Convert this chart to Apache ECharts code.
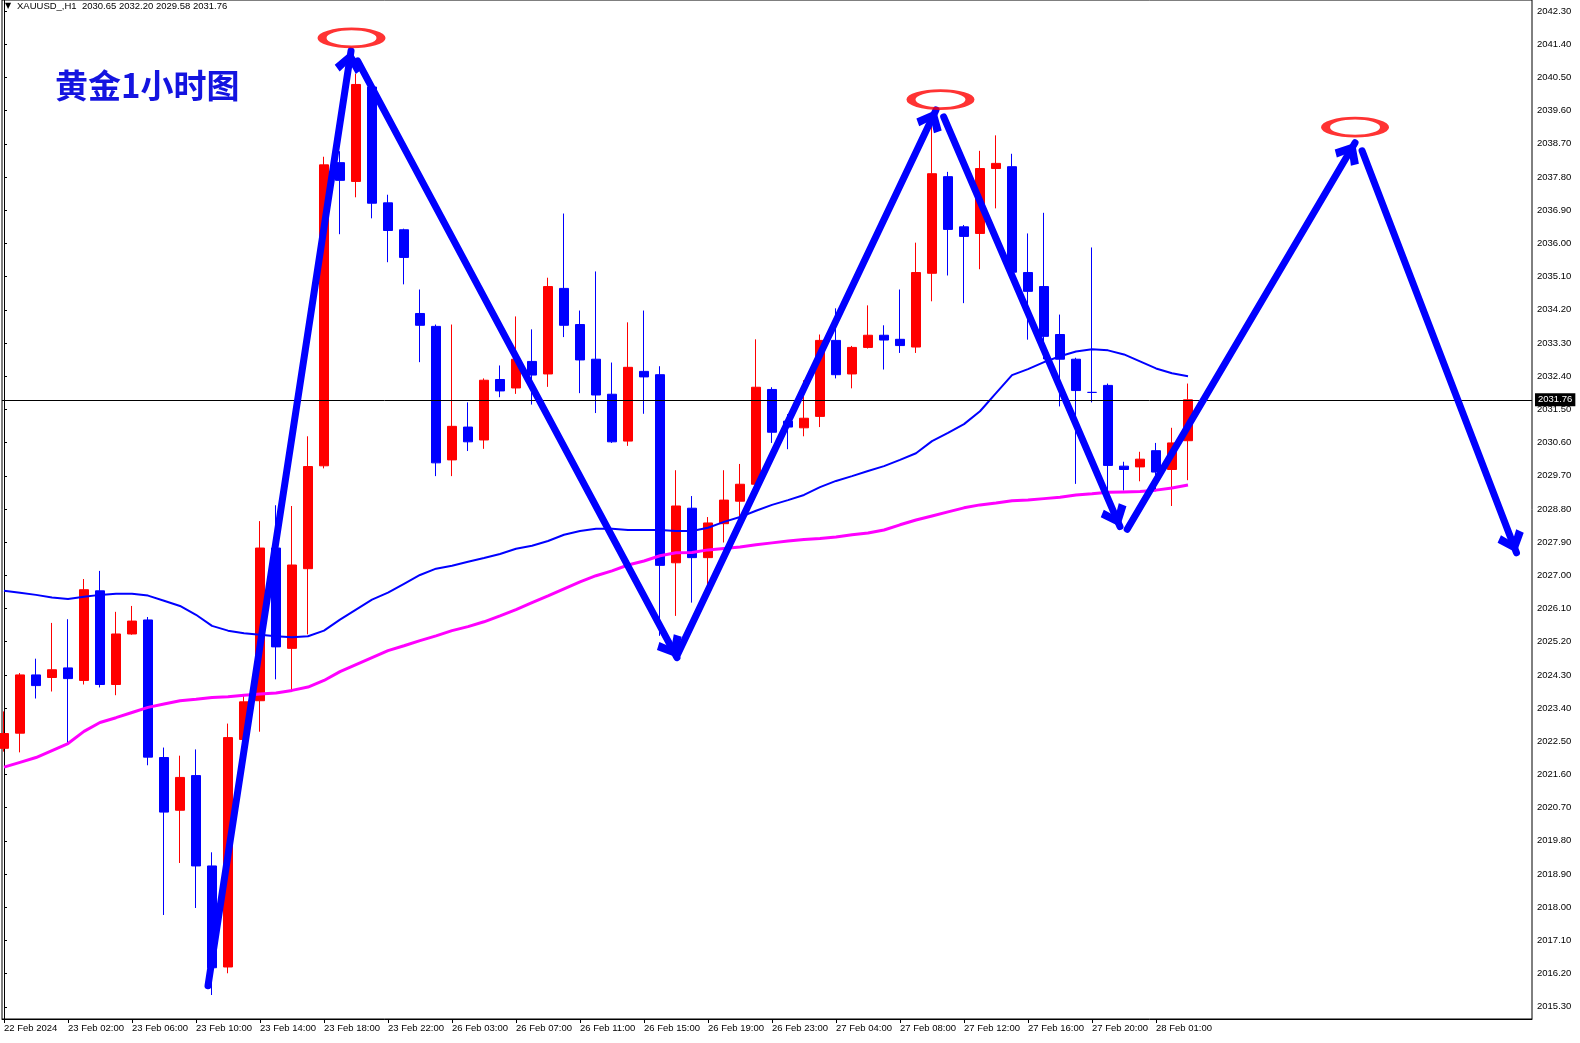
<!DOCTYPE html>
<html>
<head>
<meta charset="utf-8">
<script src="https://cdn.jsdelivr.net/npm/echarts@6/dist/echarts.min.js"></script>
<style>
html,body{margin:0;padding:0;background:#fff;}
#chart{width:1580px;height:1043px;}
</style>
</head>
<body>
<div id="chart"></div>
<script>
// ---- data (bar index 0..74, H1 bars) ----
const openV  = [2022.31,2022.72,2024.30,2024.23,2024.49,2024.15,2026.58,2024.04,2025.41,2025.79,
                2022.06,2020.63,2021.57,2019.12,2016.38,2022.55,2023.60,2027.74,2025.02,2027.18,
                2029.97,2038.19,2037.68,2040.24,2037.10,2036.37,2034.10,2033.75,2030.13,2031.02,
                2030.67,2032.31,2032.08,2032.80,2032.46,2034.78,2033.80,2032.86,2031.91,2030.64,
                2032.53,2032.44,2027.34,2028.82,2027.48,2028.40,2029.01,2029.47,2032.04,2031.18,
                2031.00,2031.31,2033.37,2032.46,2033.18,2033.51,2033.40,2033.19,2035.19,2037.81,
                2036.45,2036.27,2038.03,2038.08,2035.21,2034.83,2033.53,2032.86,2031.96,2032.15,
                2029.96,2029.94,2030.38,2029.87,2030.65];
const closeV = [2022.71,2024.30,2024.01,2024.44,2024.20,2026.61,2024.04,2025.41,2025.76,2022.07,
                2020.58,2021.52,2019.12,2016.36,2022.60,2023.57,2027.74,2025.06,2027.28,2029.95,
                2038.13,2037.71,2040.31,2037.09,2036.35,2035.62,2033.78,2030.05,2031.04,2030.62,
                2032.29,2032.00,2032.86,2032.43,2034.83,2033.78,2032.84,2031.89,2030.62,2032.64,
                2032.38,2027.27,2028.88,2027.48,2028.42,2029.04,2029.47,2032.10,2030.88,2031.02,
                2031.26,2033.37,2032.44,2033.18,2033.51,2033.38,2033.23,2035.21,2037.89,2036.38,
                2036.19,2038.03,2038.17,2035.22,2034.70,2033.48,2032.86,2032.01,2031.96,2029.98,
                2029.87,2030.15,2029.80,2030.59,2031.76];
const lowV   = [2022.22,2022.20,2023.66,2023.85,2022.45,2024.04,2023.96,2023.75,2025.39,2021.85,
                2017.79,2019.20,2017.98,2015.62,2016.21,2022.40,2022.76,2024.18,2023.85,2025.40,
                2029.90,2036.25,2037.25,2036.68,2035.49,2034.89,2032.78,2029.69,2029.69,2030.37,
                2030.43,2031.83,2031.92,2031.63,2032.11,2033.46,2031.94,2031.40,2030.59,2030.51,
                2031.38,2025.36,2025.90,2026.26,2026.72,2027.89,2028.52,2029.40,2030.59,2030.42,
                2030.77,2031.02,2032.34,2032.07,2033.15,2032.58,2033.03,2033.03,2034.43,2035.13,
                2034.38,2035.30,2036.95,2035.10,2033.39,2032.86,2031.58,2029.48,2031.69,2029.20,
                2029.30,2029.55,2029.30,2028.88,2029.58];
const highV  = [2023.31,2024.35,2024.74,2025.71,2025.81,2026.90,2027.12,2026.01,2026.17,2025.87,
                2022.33,2022.11,2022.28,2019.49,2022.98,2023.75,2028.47,2028.90,2028.88,2030.77,
                2038.35,2038.50,2040.60,2040.35,2037.32,2036.40,2034.75,2033.80,2033.80,2031.69,
                2032.34,2032.69,2034.02,2033.67,2035.07,2036.81,2034.18,2035.24,2032.77,2033.86,
                2034.18,2032.67,2029.85,2029.15,2028.58,2029.85,2030.02,2033.40,2032.10,2031.37,
                2032.29,2033.53,2034.24,2033.22,2034.32,2033.78,2034.75,2036.02,2039.40,2037.94,
                2036.50,2038.51,2038.93,2038.43,2036.27,2036.83,2034.07,2032.90,2035.89,2032.20,
                2030.08,2030.35,2030.59,2031.00,2032.20];
// blue moving average
const maBlue = [2026.58,2026.53,2026.47,2026.40,2026.36,2026.42,2026.47,2026.50,2026.50,2026.45,
                2026.31,2026.17,2025.93,2025.63,2025.50,2025.43,2025.39,2025.35,2025.32,2025.35,
                2025.50,2025.80,2026.07,2026.34,2026.53,2026.77,2027.01,2027.18,2027.26,2027.37,
                2027.47,2027.58,2027.72,2027.80,2027.93,2028.10,2028.20,2028.26,2028.26,2028.23,
                2028.23,2028.23,2028.20,2028.20,2028.29,2028.45,2028.58,2028.75,2028.91,2029.04,
                2029.18,2029.39,2029.56,2029.69,2029.83,2029.96,2030.13,2030.31,2030.64,2030.86,
                2031.10,2031.45,2031.94,2032.43,2032.59,2032.78,2032.94,2033.07,2033.13,2033.10,
                2032.99,2032.80,2032.61,2032.48,2032.40];
// magenta moving average
const maMagenta = [2021.80,2021.93,2022.06,2022.25,2022.44,2022.77,2023.01,2023.14,2023.28,2023.42,
                2023.51,2023.60,2023.64,2023.69,2023.71,2023.75,2023.78,2023.81,2023.88,2023.97,
                2024.15,2024.39,2024.58,2024.77,2024.96,2025.09,2025.23,2025.36,2025.50,2025.61,
                2025.74,2025.90,2026.07,2026.26,2026.44,2026.63,2026.82,2026.99,2027.12,2027.28,
                2027.39,2027.53,2027.61,2027.62,2027.69,2027.73,2027.77,2027.83,2027.88,2027.93,
                2027.97,2028.00,2028.04,2028.10,2028.15,2028.23,2028.37,2028.50,2028.61,2028.72,
                2028.83,2028.91,2028.96,2029.02,2029.04,2029.08,2029.12,2029.18,2029.21,2029.25,
                2029.26,2029.27,2029.31,2029.37,2029.45];
// time axis labels (bar index -> text)
const timeTickIdx  = [0,4,8,12,16,20,24,28,32,36,40,44,48,52,56,60,64,68,72];
const timeTickText = ['22 Feb 2024','23 Feb 02:00','23 Feb 06:00','23 Feb 10:00','23 Feb 14:00',
                      '23 Feb 18:00','23 Feb 22:00','26 Feb 03:00','26 Feb 07:00','26 Feb 11:00',
                      '26 Feb 15:00','26 Feb 19:00','26 Feb 23:00','27 Feb 04:00','27 Feb 08:00',
                      '27 Feb 12:00','27 Feb 16:00','27 Feb 20:00','28 Feb 01:00'];
// price axis ticks
const priceTicks = [2015.30,2016.20,2017.10,2018.00,2018.90,2019.80,2020.70,2021.60,2022.50,2023.40,
                    2024.30,2025.20,2026.10,2027.00,2027.90,2028.80,2029.70,2030.60,2031.50,2032.40,
                    2033.30,2034.20,2035.10,2036.00,2036.90,2037.80,2038.70,2039.60,2040.50,2041.40,
                    2042.30];
const lastPrice = 2031.76;
const headerText = 'XAUUSD_,H1  2030.65 2032.20 2029.58 2031.76';
const noteText = '黄金1小时图';
// hand-drawn annotations, in (bar index, price)
const arrowStart = [[12.75,2015.87],[22.10,2040.95],[42.06,2024.82],[58.73,2039.43],[70.20,2028.25],[84.88,2038.51]];
const arrowEnd   = [[21.69,2041.22],[42.06,2024.77],[58.25,2039.62],[69.75,2028.32],[84.44,2038.73],[94.53,2027.61]];
const ringPts    = [[21.72,2041.57],[58.53,2039.90],[84.44,2039.15]];

const candleData = openV.map((o, i) => [i, o, closeV[i], lowV[i], highV[i]]);
const blueData = maBlue.map((v, i) => [i, v]);
const magData = maMagenta.map((v, i) => [i, v]);
const arrowLines = arrowStart.map((s, k) => [{coord: s}, {coord: arrowEnd[k]}]);

const FONT = 'Liberation Sans, Arial, DejaVu Sans, sans-serif';
const chevron = 'path://M12 0L24 14L19 19L12 10L5 19L0 14Z M12 -19';

const chart = echarts.init(document.getElementById('chart'), null, {renderer: 'canvas'});
chart.setOption({
  animation: false,
  backgroundColor: '#ffffff',
  grid: {left: 2, right: 48, top: -2, bottom: 24, show: true, borderColor: '#000', borderWidth: 1, backgroundColor: '#fff'},
  xAxis: {
    type: 'value', min: -0.125, max: 95.5,
    splitLine: {show: false},
    axisLine: {show: true, onZero: false, lineStyle: {color: '#000', width: 1}},
    axisTick: {show: true, length: 4, lineStyle: {color: '#000'}, customValues: timeTickIdx},
    axisLabel: {
      show: true, customValues: timeTickIdx, align: 'left', margin: 4,
      color: '#000', fontSize: 9.5, fontFamily: FONT,
      formatter: v => { const k = timeTickIdx.indexOf(Math.round(v)); return k >= 0 ? timeTickText[k] : ''; }
    }
  },
  yAxis: {
    type: 'value', position: 'right', min: 2014.97, max: 2042.60, scale: true,
    splitLine: {show: false},
    axisLine: {show: true, lineStyle: {color: '#000', width: 1}},
    axisTick: {show: true, length: 3, lineStyle: {color: '#000'}, customValues: priceTicks},
    axisLabel: {
      show: true, customValues: priceTicks, margin: 5, color: '#000', fontSize: 9.5, fontFamily: FONT,
      formatter: v => v.toFixed(2)
    }
  },
  series: [
    {
      type: 'candlestick', data: candleData, encode: {x: 0, y: [1, 2, 3, 4]},
      barWidth: 10, clip: true, silent: true, z: 2,
      itemStyle: {color: '#ff0000', color0: '#0000ff', borderColor: '#ff0000', borderColor0: '#0000ff',
                  borderColorDoji: '#0000ff', borderWidth: 1},
      markLine: {
        silent: true, symbol: ['none', 'none'], animation: false,
        lineStyle: {color: '#000', width: 1, type: 'solid'},
        label: {show: true, position: 'end', distance: 3, formatter: lastPrice.toFixed(2),
                color: '#fff', backgroundColor: '#000', padding: [2, 3, 1, 3], fontSize: 9.5, fontFamily: FONT},
        data: [{yAxis: lastPrice}]
      }
    },
    {type: 'line', data: blueData, showSymbol: false, symbol: 'none', silent: true, z: 3,
     lineStyle: {color: '#0000ff', width: 2}},
    {type: 'line', data: magData, showSymbol: false, symbol: 'none', silent: true, z: 3,
     lineStyle: {color: '#ff00ff', width: 3}},
    {
      type: 'scatter', data: ringPts, symbol: 'circle', symbolSize: [59, 18], silent: true, z: 5,
      itemStyle: {color: 'rgba(0,0,0,0)', borderColor: '#ff0000', borderWidth: 5}
    },
    {
      type: 'line', data: [], silent: true, z: 6,
      markLine: {
        silent: true, animation: false,
        symbol: ['none', chevron], symbolSize: [28, 44],
        lineStyle: {color: '#0000ff', width: 7, type: 'solid', cap: 'round'},
        itemStyle: {color: '#0000ff'},
        label: {show: false},
        data: arrowLines
      }
    }
  ],
  graphic: [
    {type: 'text', left: 5, top: 2, style: {text: '▼', fill: '#000', font: '8px DejaVu Sans'}},
    {type: 'text', left: 17, top: 1, style: {text: headerText, fill: '#000', font: '9.5px ' + FONT}},
    {type: 'text', left: 55, top: 69, z: 10,
     style: {text: noteText, fill: '#1414e0', font: 'bold 33px "Noto Sans CJK SC", sans-serif',
             textShadowColor: '#c000ff', textShadowOffsetX: -1, textShadowOffsetY: 1, textShadowBlur: 0}}
  ]
});
</script>
</body>
</html>
